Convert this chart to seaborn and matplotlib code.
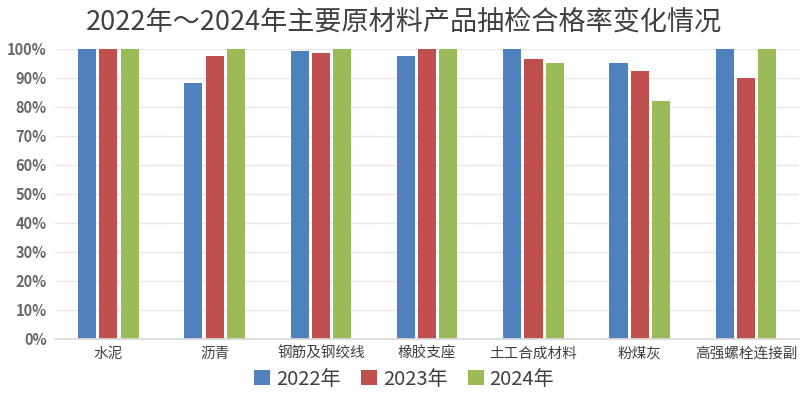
import matplotlib
matplotlib.use("Agg")
import matplotlib.pyplot as plt
import seaborn as sns
import pandas as pd
from matplotlib.ticker import PercentFormatter, MultipleLocator
from matplotlib.patches import Patch

categories = ["水泥", "沥青", "钢筋及钢绞线", "橡胶支座", "土工合成材料", "粉煤灰", "高强螺栓连接副"]
years = ["2022年", "2023年", "2024年"]
rate_2022 = [100.0, 88.3, 99.4, 97.6, 100.0, 95.0, 100.0]
rate_2023 = [100.0, 97.6, 98.7, 100.0, 96.4, 92.4, 90.0]
rate_2024 = [100.0, 100.0, 100.0, 100.0, 95.0, 82.1, 100.0]
colors = ["#4F81BD", "#C0504D", "#9BBB59"]
title = "2022年～2024年主要原材料产品抽检合格率变化情况"

rows = []
for yr, vals in zip(years, [rate_2022, rate_2023, rate_2024]):
    for c, v in zip(categories, vals):
        rows.append({"category": c, "year": yr, "rate": v / 100.0})
df = pd.DataFrame(rows)

sns.set_theme(style="white")
plt.rcParams["font.family"] = ["Noto Sans CJK SC", "DejaVu Sans"]

fig = plt.figure(figsize=(8, 3.95), dpi=100)
ax = fig.add_axes([0.069, 0.143, 0.93, 0.733])

sns.barplot(data=df, x="category", y="rate", hue="year", hue_order=years,
            order=categories, palette=colors, width=0.6, gap=0.15,
            saturation=1, ax=ax, legend=False, edgecolor="none")

ax.set_ylim(0, 1.0)
ax.yaxis.set_major_locator(MultipleLocator(0.1))
ax.yaxis.set_major_formatter(PercentFormatter(1.0, decimals=0))
ax.set_xlim(-0.5, len(categories) - 0.5)
ax.grid(axis="y", color="#E8E8E8", linewidth=1)
ax.set_axisbelow(True)
for s in ["top", "right", "left"]:
    ax.spines[s].set_visible(False)
ax.spines["bottom"].set_color("#D9D9D9")
ax.set_xlabel("")
ax.set_ylabel("")
ax.tick_params(axis="y", length=0, pad=6, labelsize=10.5, labelcolor="#666666")
for lbl in ax.get_yticklabels():
    lbl.set_fontweight("bold")
ax.tick_params(axis="x", length=0, pad=6, labelsize=10.5, labelcolor="#404040")
for b in ax.patches:
    b.set_clip_on(False)

fig.text(0.505, 0.945, title, ha="center", va="center", fontsize=19.5, color="#404040")

handles = [Patch(facecolor=c, edgecolor="none") for c in colors]
fig.legend(handles, years, loc="center", bbox_to_anchor=(0.505, 0.04), ncol=3,
           frameon=False, fontsize=14.5, handlelength=0.8, handleheight=0.8,
           handletextpad=0.3, columnspacing=1.0, labelcolor="#404040")

fig.savefig("out.png", dpi=100, facecolor="white")
